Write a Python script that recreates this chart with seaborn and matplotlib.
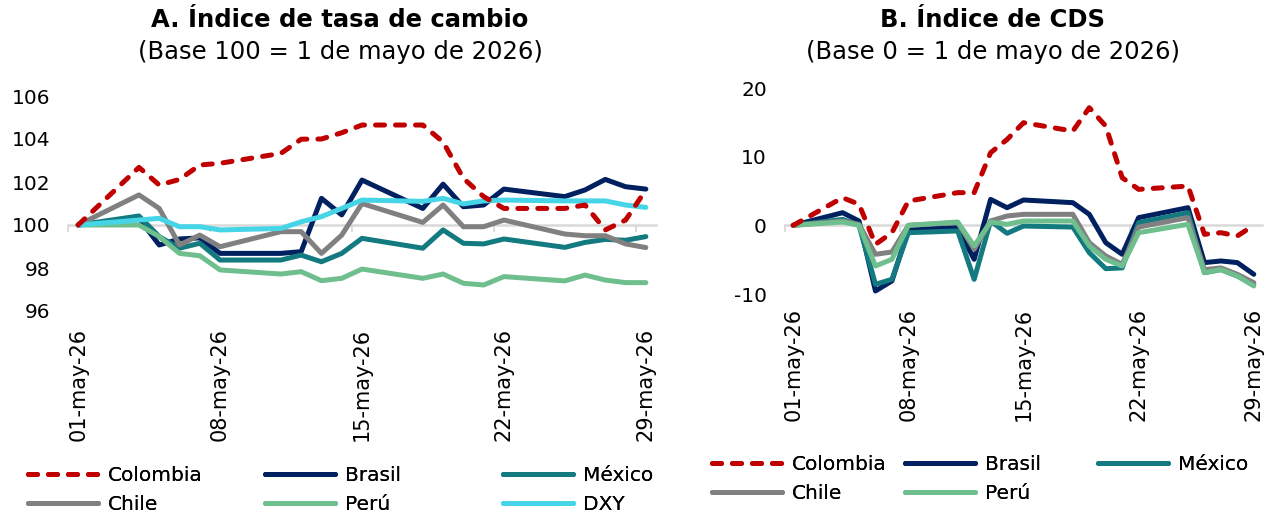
import numpy as np
import pandas as pd
import matplotlib
matplotlib.use("Agg")
import matplotlib.pyplot as plt
from matplotlib.lines import Line2D
import seaborn as sns

# ---------------- data ----------------
dates = ["2026-05-01",
         "2026-05-04", "2026-05-05", "2026-05-06", "2026-05-07", "2026-05-08",
         "2026-05-11", "2026-05-12", "2026-05-13", "2026-05-14", "2026-05-15",
         "2026-05-18", "2026-05-19", "2026-05-20", "2026-05-21", "2026-05-22",
         "2026-05-25", "2026-05-26", "2026-05-27", "2026-05-28", "2026-05-29"]
tick_dates = ["2026-05-01", "2026-05-08", "2026-05-15", "2026-05-22", "2026-05-29"]

# A. Índice de tasa de cambio
tc_colombia = [100, 102.68, 101.86, 102.12, 102.79, 102.87, 103.33, 103.99, 104.0, 104.29, 104.65,
               104.65, 103.86, 102.17, 101.32, 100.77, 100.77, 100.93, 99.77, 100.23, 101.63]
tc_brasil = [100, 100.3, 99.07, 99.35, 99.4, 98.68, 98.68, 98.76, 101.24, 100.47, 102.09,
             100.77, 101.9, 100.85, 100.93, 101.67, 101.32, 101.63, 102.12, 101.78, 101.67]
tc_mexico = [100, 100.42, 99.46, 98.92, 99.15, 98.37, 98.37, 98.6, 98.29, 98.68, 99.38,
             98.92, 99.77, 99.15, 99.12, 99.35, 98.96, 99.19, 99.33, 99.29, 99.46]
tc_chile = [100, 101.4, 100.77, 99.07, 99.53, 98.99, 99.69, 99.69, 98.68, 99.53, 101.0,
            100.12, 100.93, 99.92, 99.92, 100.23, 99.58, 99.5, 99.5, 99.12, 98.95]
tc_peru = [100, 100.0, 99.46, 98.68, 98.57, 97.91, 97.72, 97.83, 97.41, 97.52, 97.95,
           97.52, 97.72, 97.29, 97.21, 97.6, 97.4, 97.67, 97.44, 97.32, 97.32]
tc_dxy = [100, 100.23, 100.31, 99.92, 99.92, 99.77, 99.84, 100.15, 100.39, 100.77, 101.16,
          101.1, 101.24, 100.98, 101.12, 101.16, 101.12, 101.12, 101.12, 100.93, 100.82]

# B. Índice de CDS
cds_colombia = [0, 4.03, 3.06, -2.77, -1.07, 3.54, 4.76, 4.76, 10.58, 12.5, 14.95,
                13.73, 17.13, 14.46, 6.94, 5.24, 5.72, -1.31, -1.07, -1.55, 0]
cds_brasil = [0, 1.84, 0.63, -9.56, -8.1, -0.58, -0.34, -4.95, 3.78, 2.57, 3.69,
              3.3, 1.6, -2.52, -4.22, 1.12, 2.57, -5.43, -5.19, -5.43, -7.13]
cds_mexico = [0, 0.87, 0, -8.59, -7.86, -1.07, -0.82, -7.86, 0.63, -1.16, -0.1,
              -0.25, -3.98, -6.31, -6.2, 0.39, 1.84, -6.89, -6.45, -7.38, -8.59]
cds_chile = [0, 0.63, 0.15, -4.22, -3.88, 0, 0.39, -3.49, 0.63, 1.36, 1.6,
             1.6, -2.52, -4.46, -5.68, -0.25, 1.12, -6.45, -6.2, -7.13, -8.35]
cds_peru = [0, 0.48, 0, -5.92, -4.95, 0, 0.48, -3.0, 0.48, 0.15, 0.63,
            0.63, -3.0, -4.95, -5.92, -1.07, 0.15, -6.89, -6.45, -7.38, -8.83]

names_tc = ["Colombia", "Brasil", "México", "Chile", "Perú", "DXY"]
names_cds = ["Colombia", "Brasil", "México", "Chile", "Perú"]
colors = {"Colombia": "#C00000", "Brasil": "#002060", "México": "#137A80",
          "Chile": "#808080", "Perú": "#6FBF8E", "DXY": "#45D5E6"}

# ---------------- style ----------------
sns.set_theme(style="white")
plt.rcParams['font.family'] = ['DejaVu Sans']
plt.rcParams['axes.unicode_minus'] = False
plt.rcParams['text.color'] = 'black'

W, H = 1268, 514
fig = plt.figure(figsize=(W / 100, H / 100), dpi=100)

dt = pd.to_datetime(dates)
x = np.array((dt - dt[0]).days, dtype=float)
tdt = pd.to_datetime(tick_dates)
tx = np.array((tdt - dt[0]).days, dtype=float)
tlabels = [d.strftime("%d-%b-%y").lower() for d in tdt]

LW = 3.6


def draw_panel(ax, series, names, ylim, yticks, base, xpad):
    order = [n for n in names if n != "Colombia"] + ["Colombia"]
    for n in order:
        sns.lineplot(x=x, y=series[n], ax=ax, color=colors[n], linewidth=LW,
                     solid_capstyle="round", solid_joinstyle="round", legend=False)
        line = ax.get_lines()[-1]
        if n == "Colombia":
            line.set_dashes((1.8, 2.2))
            line.set_dash_capstyle("round")
    ax.set_xlim(-0.5, 28.5)
    ax.set_ylim(*ylim)
    ax.set_yticks(yticks)
    ax.set_xticks(tx)
    ax.set_xticklabels(tlabels, rotation=90)
    for s in ax.spines.values():
        s.set_visible(False)
    ax.tick_params(axis="x", length=0, pad=xpad, labelsize=15, colors="black")
    ax.tick_params(axis="y", length=0, pad=13, labelsize=14.5, colors="black")
    ax.set_xlabel("")
    ax.set_ylabel("")
    # base line acting as horizontal axis
    sec = ax.secondary_xaxis((base - ylim[0]) / (ylim[1] - ylim[0]))
    sec.set_xticks([-0.5 + 7 * k for k in range(5)])
    sec.tick_params(axis="x", length=5, width=1.3, color="#D9D9D9",
                    labelbottom=False, labeltop=False, direction="out")
    for s in sec.spines.values():
        s.set_color("#D9D9D9")
        s.set_linewidth(1.8)
    sec.set_zorder(0)


def make_handle(n):
    h = Line2D([0], [0], color=colors[n], linewidth=LW,
               solid_capstyle="round", dash_capstyle="round")
    if n == "Colombia":
        h.set_dashes((1.8, 2.2))
    return h


def draw_legend(cols, xs_px, ytop_px):
    for col, xp in zip(cols, xs_px):
        leg = fig.legend([make_handle(n) for n in col], col,
                         loc="upper left", bbox_to_anchor=(xp / W, 1 - ytop_px / H),
                         frameon=False, borderaxespad=0, borderpad=0,
                         handlelength=3.5, handletextpad=0.45,
                         labelspacing=0.52, fontsize=14.5)
        for t in leg.get_texts():
            t.set_color("black")
        fig.add_artist(leg)


# ---------------- panel A ----------------
axL = fig.add_axes([68 / W, 1 - 311 / H, (656 - 68) / W, (311 - 96) / H])
ser_tc = dict(zip(names_tc, [tc_colombia, tc_brasil, tc_mexico, tc_chile, tc_peru, tc_dxy]))
draw_panel(axL, ser_tc, names_tc, (96, 106), [96, 98, 100, 102, 104, 106], 100, 12)

# ---------------- panel B ----------------
axR = fig.add_axes([785 / W, 1 - 294 / H, (1262 - 785) / W, (294 - 88) / H])
ser_cds = dict(zip(names_cds, [cds_colombia, cds_brasil, cds_mexico, cds_chile, cds_peru]))
draw_panel(axR, ser_cds, names_cds, (-10, 20), [-10, 0, 10, 20], 0, 10)

# titles
fig.text(340 / W, 1 - 20 / H, "A. Índice de tasa de cambio", ha="center", va="center",
         fontsize=17.5, fontweight="bold", color="black")
fig.text(340 / W, 1 - 52 / H, "(Base 100 = 1 de mayo de 2026)", ha="center", va="center",
         fontsize=17.5, color="black")
fig.text(993 / W, 1 - 20 / H, "B. Índice de CDS", ha="center", va="center",
         fontsize=17.5, fontweight="bold", color="black")
fig.text(993 / W, 1 - 52 / H, "(Base 0 = 1 de mayo de 2026)", ha="center", va="center",
         fontsize=17.5, color="black")

# legends
draw_legend([["Colombia", "Chile"], ["Brasil", "Perú"], ["México", "DXY"]],
            [28, 265, 503], 466)
draw_legend([["Colombia", "Chile"], ["Brasil", "Perú"], ["México"]],
            [712, 905, 1098], 455)

fig.savefig("out.png", dpi=100)
